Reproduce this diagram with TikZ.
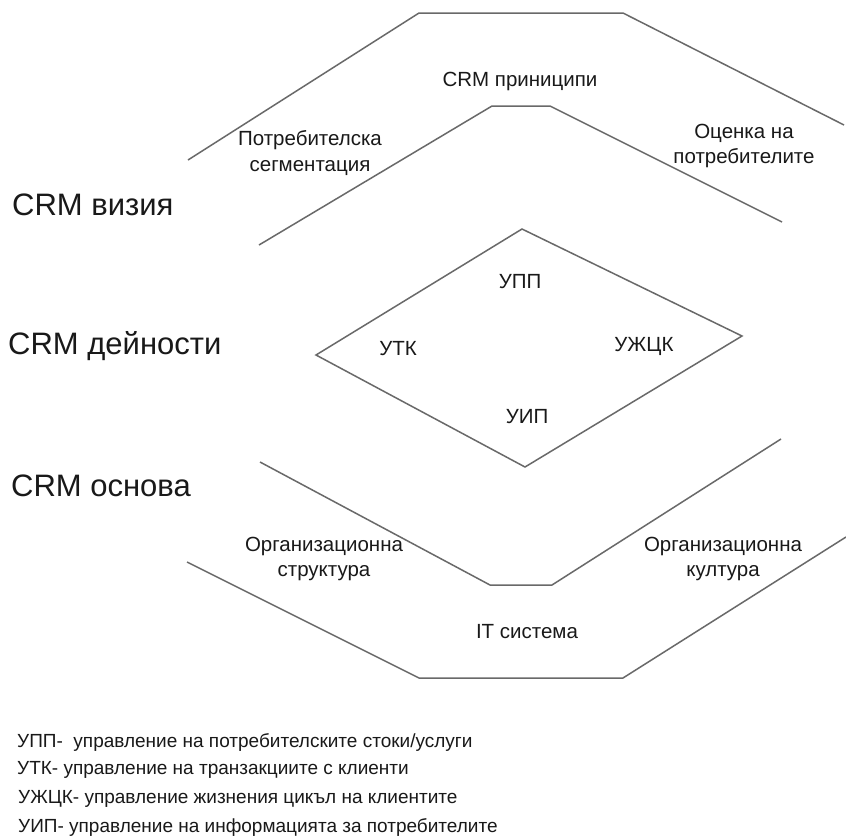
\documentclass[tikz,border=0pt]{standalone}
\usepackage{fontspec}
\setmainfont{Liberation Sans}
\definecolor{linegray}{RGB}{105,105,105}
\definecolor{textgray}{RGB}{25,25,25}
\begin{document}
\begin{tikzpicture}[x=1pt,y=-1pt,
  edge/.style={draw=linegray, line width=1.5pt, line join=miter},
  lbl/.style={font=\fontsize{20.5}{25.5}\selectfont, text=textgray, align=center, inner sep=0pt},
  big/.style={font=\fontsize{31}{36}\selectfont, text=textgray, anchor=west, inner sep=0pt},
  leg/.style={font=\fontsize{19}{23}\selectfont, text=textgray, anchor=west, inner sep=0pt}]
\useasboundingbox[fill=white] (0,0) rectangle (846,839);

% top outer
\coordinate (to1) at (188,160);
\coordinate (to2) at (419,13);
\coordinate (to3) at (623,13);
\coordinate (to4) at (844,125);
% top inner
\coordinate (ti1) at (259,245);
\coordinate (ti2) at (492,106);
\coordinate (ti3) at (550,106);
\coordinate (ti4) at (782,222);
% diamond
\coordinate (dt) at (522,229);
\coordinate (dl) at (316,355);
\coordinate (dr) at (742,336);
\coordinate (db) at (525,467);
% bottom inner
\coordinate (bi1) at (260,462);
\coordinate (bi2) at (490,585);
\coordinate (bi3) at (552,585);
\coordinate (bi4) at (781,439);
% bottom outer
\coordinate (bo1) at (187,562);
\coordinate (bo2) at (419,678);
\coordinate (bo3) at (623,678);
\coordinate (bo4) at (846,537);

\draw[edge] (to1) -- (to2) -- (to3) -- (to4);
\draw[edge] (ti1) -- (ti2) -- (ti3) -- (ti4);
\draw[edge] (dt) -- (dr) -- (db) -- (dl) -- cycle;
\draw[edge] (bi1) -- (bi2) -- (bi3) -- (bi4);
\draw[edge] (bo1) -- (bo2) -- (bo3) -- (bo4);

\node[lbl] (princ) at (520,81) {CRM приниципи};
\node[lbl] (segm) at (310,153) {Потребителска\\сегментация};
\node[lbl] (ocen) at (744,146) {Оценка на\\потребителите};

\node[lbl] (upp) at (520,282) {УПП};
\node[lbl] (utk) at (398,349) {УТК};
\node[lbl] (ujck) at (644,346) {УЖЦК};
\node[lbl] (uip) at (527,417) {УИП};

\node[lbl] (ostr) at (324,559) {Организационна\\структура};
\node[lbl] (okult) at (723,559) {Организационна\\култура};
\node[lbl] (it) at (527,632) {IT система};

\node[big] (viz) at (12,205) {CRM визия};
\node[big] (dei) at (8,346) {CRM дейности};
\node[big] (osn) at (11,486) {CRM основа};

\node[leg] (l1) at (17,742) {УПП-\ \ управление на потребителските стоки/услуги};
\node[leg] (l2) at (17,770) {УТК- управление на транзакциите с клиенти};
\node[leg] (l3) at (18,799) {УЖЦК- управление жизнения цикъл на клиентите};
\node[leg] (l4) at (18,827) {УИП- управление на информацията за потребителите};
\end{tikzpicture}
\end{document}
